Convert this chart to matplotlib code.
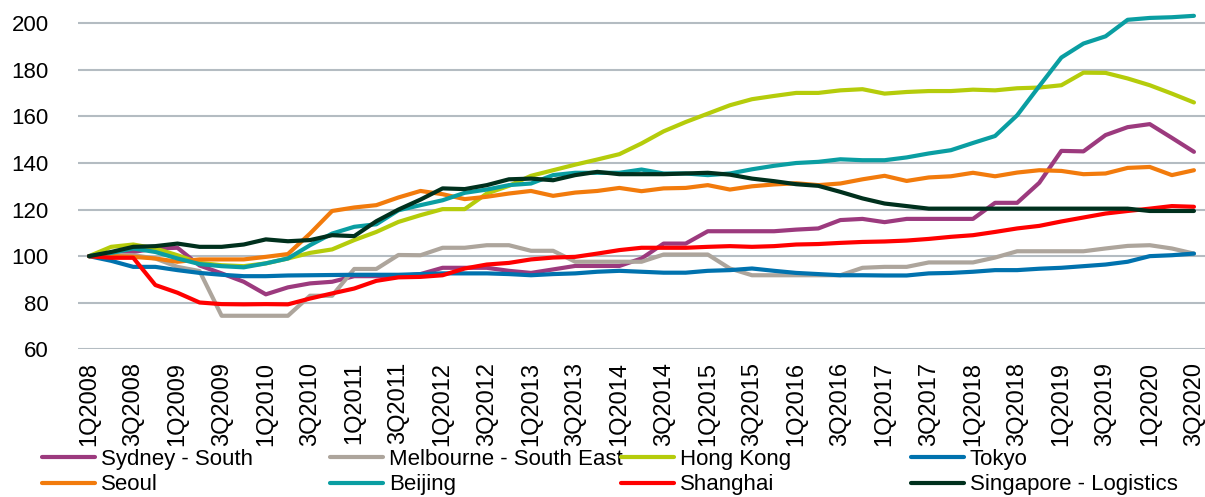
import matplotlib
matplotlib.use("Agg")
import matplotlib.pyplot as plt

plt.rcParams['font.family'] = ['Liberation Sans', 'DejaVu Sans']

quarters = [f"{q}Q{y}" for y in range(2008, 2021) for q in (1, 2, 3, 4)][:51]

sydney = [100, 101, 101.8, 103.3, 103.6, 96, 92.6, 89, 83.6, 86.6, 88.3, 89, 91.4, 91.4, 91.4, 92.3, 95, 95, 95, 93.7,
          92.8, 94.3, 95.8, 95.8, 95.8, 99, 105.4, 105.4, 110.7, 110.7, 110.7, 110.7, 111.4, 111.9, 115.5, 116, 114.6,
          116, 116, 116, 116, 122.9, 122.9, 131.5, 145.2, 145, 152, 155.4, 156.7, 150.8, 144.8]
melbourne = [100, 100.5, 100.4, 99, 95.4, 93.6, 74.4, 74.4, 74.4, 74.4, 83, 83, 94.5, 94.5, 100.5, 100.4, 103.6, 103.6,
             104.7, 104.7, 102.3, 102.3, 97.6, 97.6, 97.6, 97.6, 100.7, 100.7, 100.7, 94.7, 91.8, 91.8, 91.8, 91.8,
             91.8, 95, 95.4, 95.4, 97.3, 97.3, 97.3, 99.4, 102.1, 102.1, 102.1, 102.1, 103.3, 104.4, 104.7, 103.3, 101.1]
hongkong = [100, 104, 105, 103.3, 100.4, 97.1, 96.1, 95.7, 96.9, 99, 101.4, 102.9, 106.9, 110.4, 114.7, 117.6, 120.2,
            120.2, 126.9, 130.2, 134.5, 136.9, 139.3, 141.5, 143.8, 148.4, 153.6, 157.6, 161.2, 164.8, 167.4, 168.8,
            170.1, 170.1, 171.2, 171.7, 169.8, 170.5, 170.9, 170.9, 171.5, 171.2, 172.1, 172.4, 173.4, 178.8, 178.7,
            176.3, 173.4, 169.8, 166]
tokyo = [100, 98, 95.4, 95.4, 94, 92.8, 92, 91.4, 91.4, 91.7, 91.8, 91.9, 92, 92, 92, 92.3, 92.6, 92.6, 92.6, 92.3,
         91.8, 92.3, 92.6, 93.3, 93.7, 93.3, 92.9, 92.9, 93.7, 94, 94.7, 93.7, 92.8, 92.3, 91.8, 91.8, 91.7, 91.7, 92.6,
         92.8, 93.3, 94, 94, 94.6, 95, 95.7, 96.4, 97.6, 100, 100.4, 101.1]
seoul = [100, 100, 99.7, 99, 97.6, 98.6, 98.6, 98.6, 99.7, 100.9, 109.7, 119.4, 120.9, 121.9, 125.2, 128, 126.6, 124.5,
         125.5, 126.9, 128, 125.9, 127.3, 128, 129.3, 127.9, 129.1, 129.3, 130.5, 128.6, 130, 130.8, 131.3, 130.5, 131.2,
         133, 134.5, 132.3, 133.8, 134.3, 135.8, 134.3, 135.9, 136.9, 136.6, 135.2, 135.5, 137.9, 138.3, 134.8, 136.9]
beijing = [100, 101.4, 103.3, 101.8, 99, 96.6, 95.7, 95.2, 96.9, 99, 104.7, 109.7, 112.6, 113.7, 119.7, 121.9, 124,
           127.2, 128.6, 130.5, 131.2, 134.8, 135.8, 135.8, 135.8, 137.2, 135.5, 135.5, 134.8, 135.5, 137.3, 138.8, 140,
           140.5, 141.6, 141.2, 141.2, 142.4, 144.1, 145.5, 148.6, 151.6, 160.5, 173, 185.3, 191.3, 194.4, 201.5,
           202.3, 202.6, 203.2]
shanghai = [100, 99.3, 99.3, 87.6, 84.3, 80.1, 79.4, 79.3, 79.4, 79.3, 81.8, 84, 86.1, 89.4, 90.9, 91.1, 91.8, 94.7,
            96.4, 97.1, 98.6, 99.4, 99.7, 101.1, 102.6, 103.6, 103.6, 103.6, 104, 104.3, 104, 104.3, 105, 105.2, 105.7,
            106.1, 106.3, 106.7, 107.4, 108.3, 109, 110.4, 111.9, 113, 114.9, 116.6, 118.3, 119.4, 120.4, 121.5, 121.2]
singapore = [100, 101.8, 104, 104.3, 105.4, 104, 104, 105, 107.2, 106.4, 106.9, 109, 108.6, 115, 120, 124.3, 129.1,
             128.8, 130.5, 133, 133.3, 132.6, 134.8, 136.2, 135.2, 135.2, 135.2, 135.5, 135.8, 135, 133.3, 132.2, 130.9,
             130.2, 127.6, 124.8, 122.6, 121.5, 120.4, 120.4, 120.4, 120.4, 120.4, 120.4, 120.4, 120.4, 120.4, 120.4,
             119.4, 119.4, 119.4]

series_names = ["Sydney - South", "Melbourne - South East", "Hong Kong", "Tokyo",
                "Seoul", "Beijing", "Shanghai", "Singapore - Logistics"]
series_data = [sydney, melbourne, hongkong, tokyo, seoul, beijing, shanghai, singapore]
colors = ["#9C3A7E", "#ADA59C", "#B5CC0B", "#0072AE", "#F27B0C", "#0A9EA2", "#FF0000", "#00301D"]

fig = plt.figure(figsize=(12.05, 4.97), dpi=100)
ax = fig.add_axes([78 / 1205, 1 - 349.3 / 497, 1 - 78 / 1205, 349.3 / 497])

x = list(range(len(quarters)))
lines = []
for name, data, c in zip(series_names, series_data, colors):
    ln, = ax.plot(x, data, color=c, lw=3.0, label=name, solid_joinstyle='round', solid_capstyle='round')
    lines.append(ln)

ax.set_xlim(-0.5, len(quarters) - 0.5)
ax.set_ylim(60, 210)
ax.set_yticks(range(60, 201, 20))
ax.set_xticks(x[::2])
ax.set_xticklabels(quarters[::2], rotation=90, ha='center', va='top', fontsize=17)
ax.tick_params(axis='both', length=0, colors='black')
ax.tick_params(axis='y', pad=21, labelsize=16)
ax.tick_params(axis='x', pad=9)
ax.grid(axis='y', color='#B4BCC2', lw=1.5)
ax.set_axisbelow(True)
for s in ax.spines.values():
    s.set_visible(False)

col_x = [42, 330, 621, 911]
for j in range(4):
    hs = [lines[j], lines[j + 4]]
    fig.legend(hs, [series_names[j], series_names[j + 4]], loc='upper left',
               bbox_to_anchor=(col_x[j] / 1205, 1 - 449 / 497), frameon=False, fontsize=16,
               handlelength=2.4, handletextpad=0.25, labelspacing=0.2, borderpad=0, borderaxespad=0)

fig.savefig("out.png", dpi=100)
